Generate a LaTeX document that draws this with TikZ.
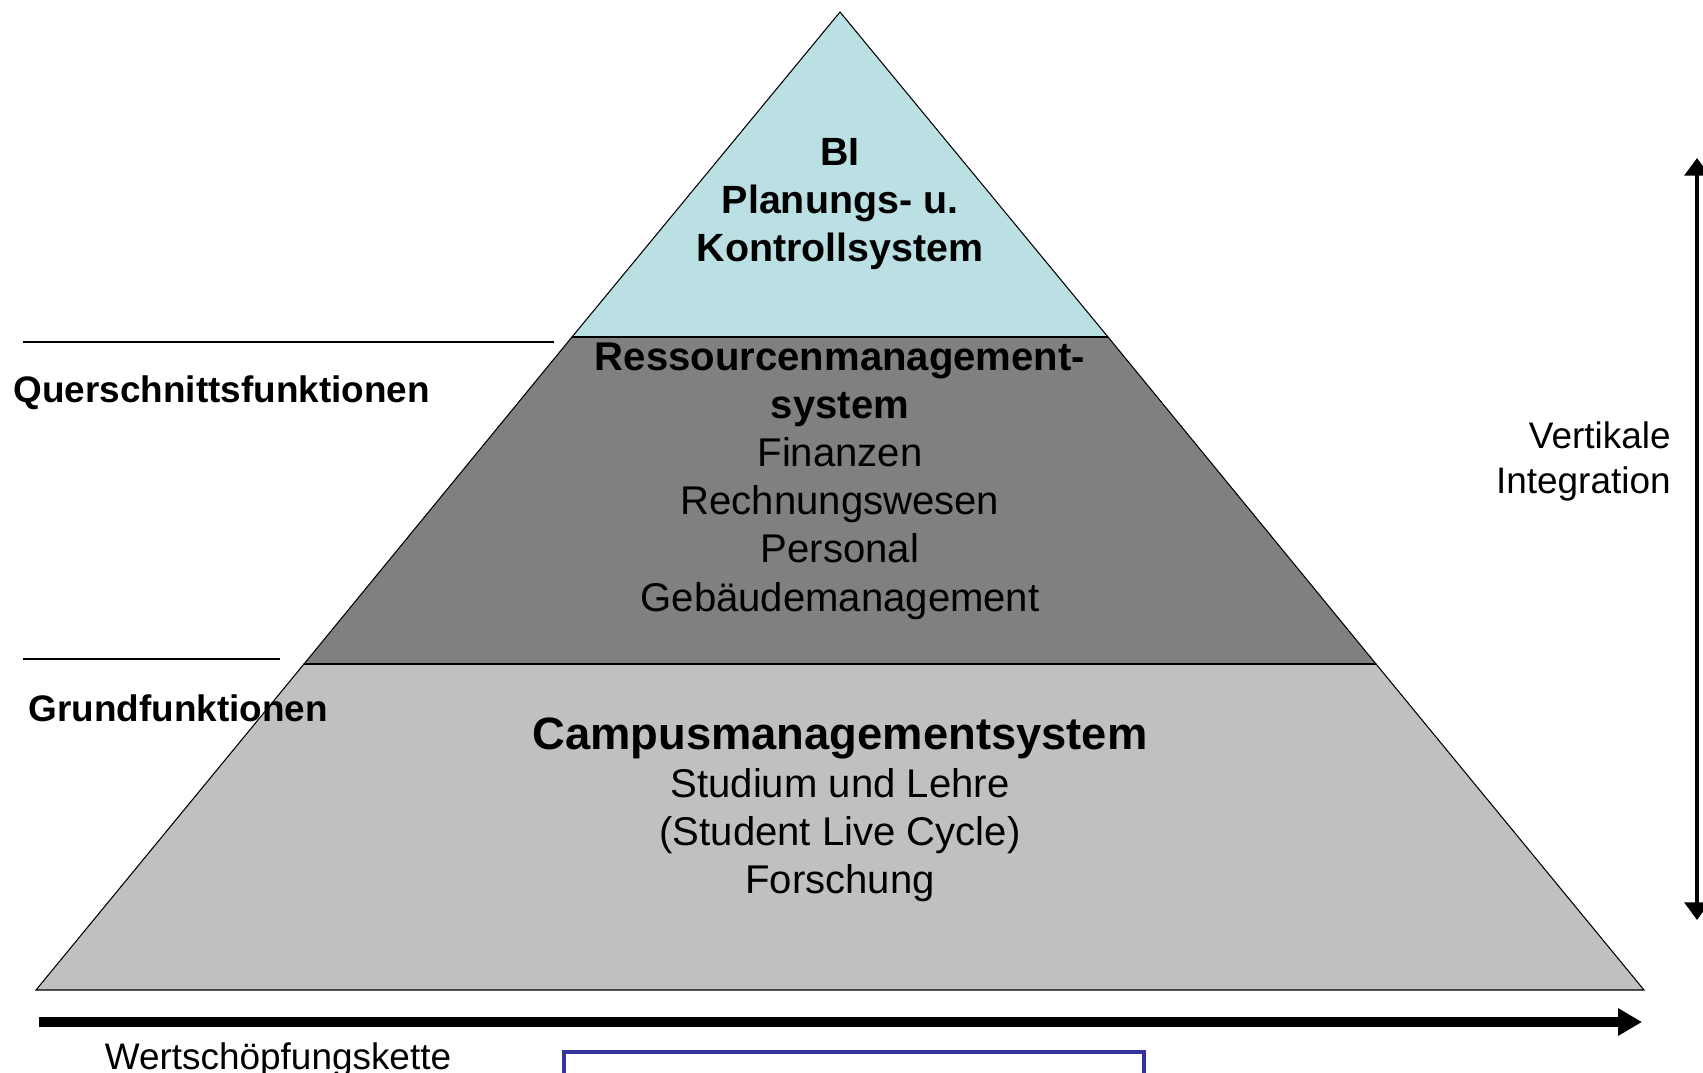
\documentclass[tikz,border=0pt]{standalone}
\usepackage{fontspec}
\setmainfont{Liberation Sans}
\usetikzlibrary{arrows.meta}
\definecolor{biblue}{RGB}{187,224,227}
\definecolor{midgray}{RGB}{128,128,128}
\definecolor{lowgray}{RGB}{192,192,192}
\definecolor{boxblue}{RGB}{51,51,153}
\tikzset{
  layer/.style={draw=black, line width=0.3pt},
  pyrtext/.style={align=center, font=\fontsize{11.4}{13.7}\selectfont},
  sidetext/.style={anchor=west, font=\fontsize{10.5}{12.8}\selectfont\bfseries},
}
\begin{document}
\begin{tikzpicture}[x=0.01cm,y=-0.01cm]
\useasboundingbox (0,0) rectangle (1703,1073);
% pyramid corners
\coordinate (apex) at (840,12);
\coordinate (tl) at (572,337);
\coordinate (tr) at (1108,337);
\coordinate (ml) at (304,664);
\coordinate (mr) at (1376,664);
\coordinate (bl) at (36,990);
\coordinate (br) at (1644,990);
\filldraw[layer,fill=lowgray] (ml) -- (mr) -- (br) -- (bl) -- cycle;
\filldraw[layer,fill=midgray] (tl) -- (tr) -- (mr) -- (ml) -- cycle;
\filldraw[layer,fill=biblue] (apex) -- (tr) -- (tl) -- cycle;
\draw[line width=0.6pt] (tl) -- (tr);
\draw[line width=0.6pt] (ml) -- (mr);

\node[pyrtext,font=\fontsize{11.2}{13.7}\selectfont\bfseries] (bi) at (840,204) {BI\\Planungs- u.\\Kontrollsystem};
\node[pyrtext] (rms) at (840,481) {\textbf{Ressourcenmanagement-}\\\textbf{system}\\Finanzen\\Rechnungswesen\\Personal\\Gebäudemanagement};
\node[font=\fontsize{12.9}{15}\selectfont\bfseries] (cms) at (840,738) {Campusmanagementsystem};
\node[pyrtext] (cmsitems) at (840,835) {Studium und Lehre\\(Student Live Cycle)\\Forschung};

% left side
\coordinate (q1) at (23,342);
\coordinate (q2) at (554,342);
\coordinate (g1) at (23,659);
\coordinate (g2) at (280,659);
\draw[line width=0.5pt] (q1) -- (q2);
\draw[line width=0.5pt] (g1) -- (g2);
\node[sidetext] (quer) at (1,393) {Querschnittsfunktionen};
\node[sidetext] (grund) at (16,708) {Grundfunktionen};

% vertical integration
\coordinate (vtop) at (1697,158);
\coordinate (vbot) at (1697,920);
\draw[line width=1.15pt,{Triangle[length=5pt,width=7pt]}-{Triangle[length=5pt,width=7pt]}] (vbot) -- (vtop);
\node[anchor=east,align=right,font=\fontsize{10.5}{12.8}\selectfont] (vert) at (1683,461) {Vertikale\\Integration};

% value chain
\coordinate (ws) at (39,1022);
\coordinate (we) at (1642,1022);
\draw[line width=2.6pt,-{Triangle[length=6.8pt,width=7.4pt]}] (ws) -- (we);
\node[font=\fontsize{10.5}{12.8}\selectfont] (wsk) at (278,1060) {Wertschöpfungskette};

\draw[boxblue,line width=0.9pt] (564,1052) rectangle (1144,1090);
\end{tikzpicture}
\end{document}
